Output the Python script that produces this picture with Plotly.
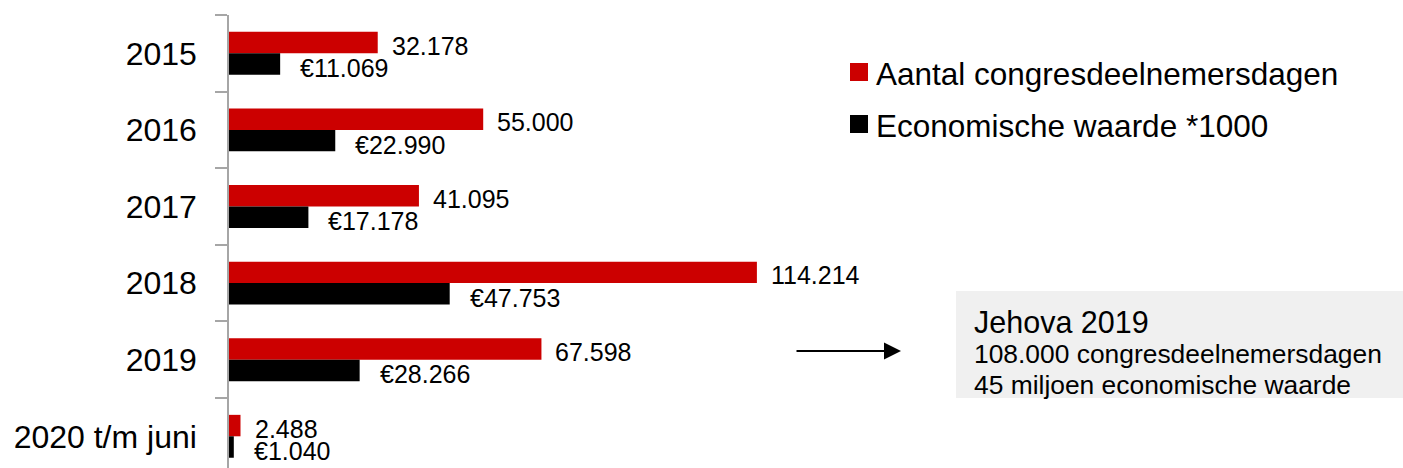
import plotly.graph_objects as go

# Data
categories = ["2015", "2016", "2017", "2018", "2019", "2020 t/m juni"]
deelnemersdagen = [32178, 55000, 41095, 114214, 67598, 2488]
economische_waarde = [11069, 22990, 17178, 47753, 28266, 1040]

series_names = ["Aantal congresdeelnemersdagen", "Economische waarde *1000"]
series_colors = ["#cc0000", "#000000"]

box_title = "Jehova 2019"
box_lines = ["108.000 congresdeelnemersdagen", "45 miljoen economische waarde"]

FONT = "Liberation Sans, Arial, sans-serif"
W, H = 1403, 468
M_L, M_R, M_T, M_B = 229, 0, 15, 0
PLOT_W = W - M_L - M_R
PLOT_H = H - M_T - M_B


def nl(v):
    """Dutch thousands separator."""
    return f"{v:,}".replace(",", ".")


def px(x):
    return (x - M_L) / PLOT_W


def py(y):
    return (H - M_B - y) / PLOT_H


fig = go.Figure()
fig.add_trace(go.Bar(
    y=categories, x=deelnemersdagen, orientation="h",
    name=series_names[0], marker=dict(color=series_colors[0], line_width=0),
))
fig.add_trace(go.Bar(
    y=categories, x=economische_waarde, orientation="h",
    name=series_names[1], marker=dict(color=series_colors[1], line_width=0),
))

annotations = []
# value labels next to the bars
half = 0.14
for i, (a, e) in enumerate(zip(deelnemersdagen, economische_waarde)):
    annotations.append(dict(
        x=a, y=i - half, xref="x", yref="y", text=nl(a), showarrow=False,
        xanchor="left", yanchor="middle", xshift=12, yshift=-3,
        font=dict(size=25, color="#000", family=FONT),
    ))
    annotations.append(dict(
        x=e, y=i + half, xref="x", yref="y", text="€" + nl(e), showarrow=False,
        xanchor="left", yanchor="middle", xshift=18, yshift=-4,
        font=dict(size=25, color="#000", family=FONT),
    ))

# legend entries
shapes = []
for k, (name, col) in enumerate(zip(series_names, series_colors)):
    top = 63 + 52 * k
    shapes.append(dict(type="rect", xref="paper", yref="paper",
                       x0=px(850), x1=px(868), y0=py(top + 18), y1=py(top),
                       fillcolor=col, line_width=0))
    annotations.append(dict(
        x=px(874), y=py(top + 11), xref="paper", yref="paper", text=name,
        showarrow=False, xanchor="left", yanchor="middle",
        font=dict(size=31.5, color="#000", family=FONT),
    ))

# info box
shapes.append(dict(type="rect", xref="paper", yref="paper",
                   x0=px(956), x1=px(1403), y0=py(398), y1=py(291),
                   fillcolor="#f0f0f0", line_width=0, layer="below"))
annotations.append(dict(
    x=px(972), y=py(322), xref="paper", yref="paper", text=box_title,
    showarrow=False, xanchor="left", yanchor="middle",
    font=dict(size=30.5, color="#000", family=FONT),
))
for j, line in enumerate(box_lines):
    annotations.append(dict(
        x=px(972), y=py(354 + 31 * j), xref="paper", yref="paper", text=line,
        showarrow=False, xanchor="left", yanchor="middle",
        font=dict(size=26.4, color="#000", family=FONT),
    ))

# arrow pointing to the box
annotations.append(dict(
    x=px(901), y=py(351), xref="paper", yref="paper", text="",
    showarrow=True, ax=-106, ay=0, axref="pixel", ayref="pixel",
    arrowhead=2, arrowsize=1.7, arrowwidth=2, arrowcolor="#000",
))

fig.update_layout(
    width=W, height=H,
    margin=dict(l=M_L, r=M_R, t=M_T, b=M_B, pad=0),
    paper_bgcolor="white", plot_bgcolor="white",
    barmode="group", bargap=0.44, bargroupgap=0,
    showlegend=False,
    font=dict(family=FONT, color="#000"),
    xaxis=dict(visible=False, range=[0, PLOT_W / 0.004622], fixedrange=True),
    yaxis=dict(
        type="category", categoryorder="array", categoryarray=categories,
        range=[-0.5 + PLOT_H / 76.6, -0.5],
        showline=True, linecolor="#a6a6a6", linewidth=1.5,
        ticks="outside", tickson="boundaries", ticklen=12, tickwidth=1.5,
        tickcolor="#a6a6a6", ticklabelstandoff=24,
        tickfont=dict(size=32, color="#000", family=FONT),
        showgrid=False, zeroline=False,
    ),
    shapes=shapes,
    annotations=annotations,
)

fig.write_html("out.html")
